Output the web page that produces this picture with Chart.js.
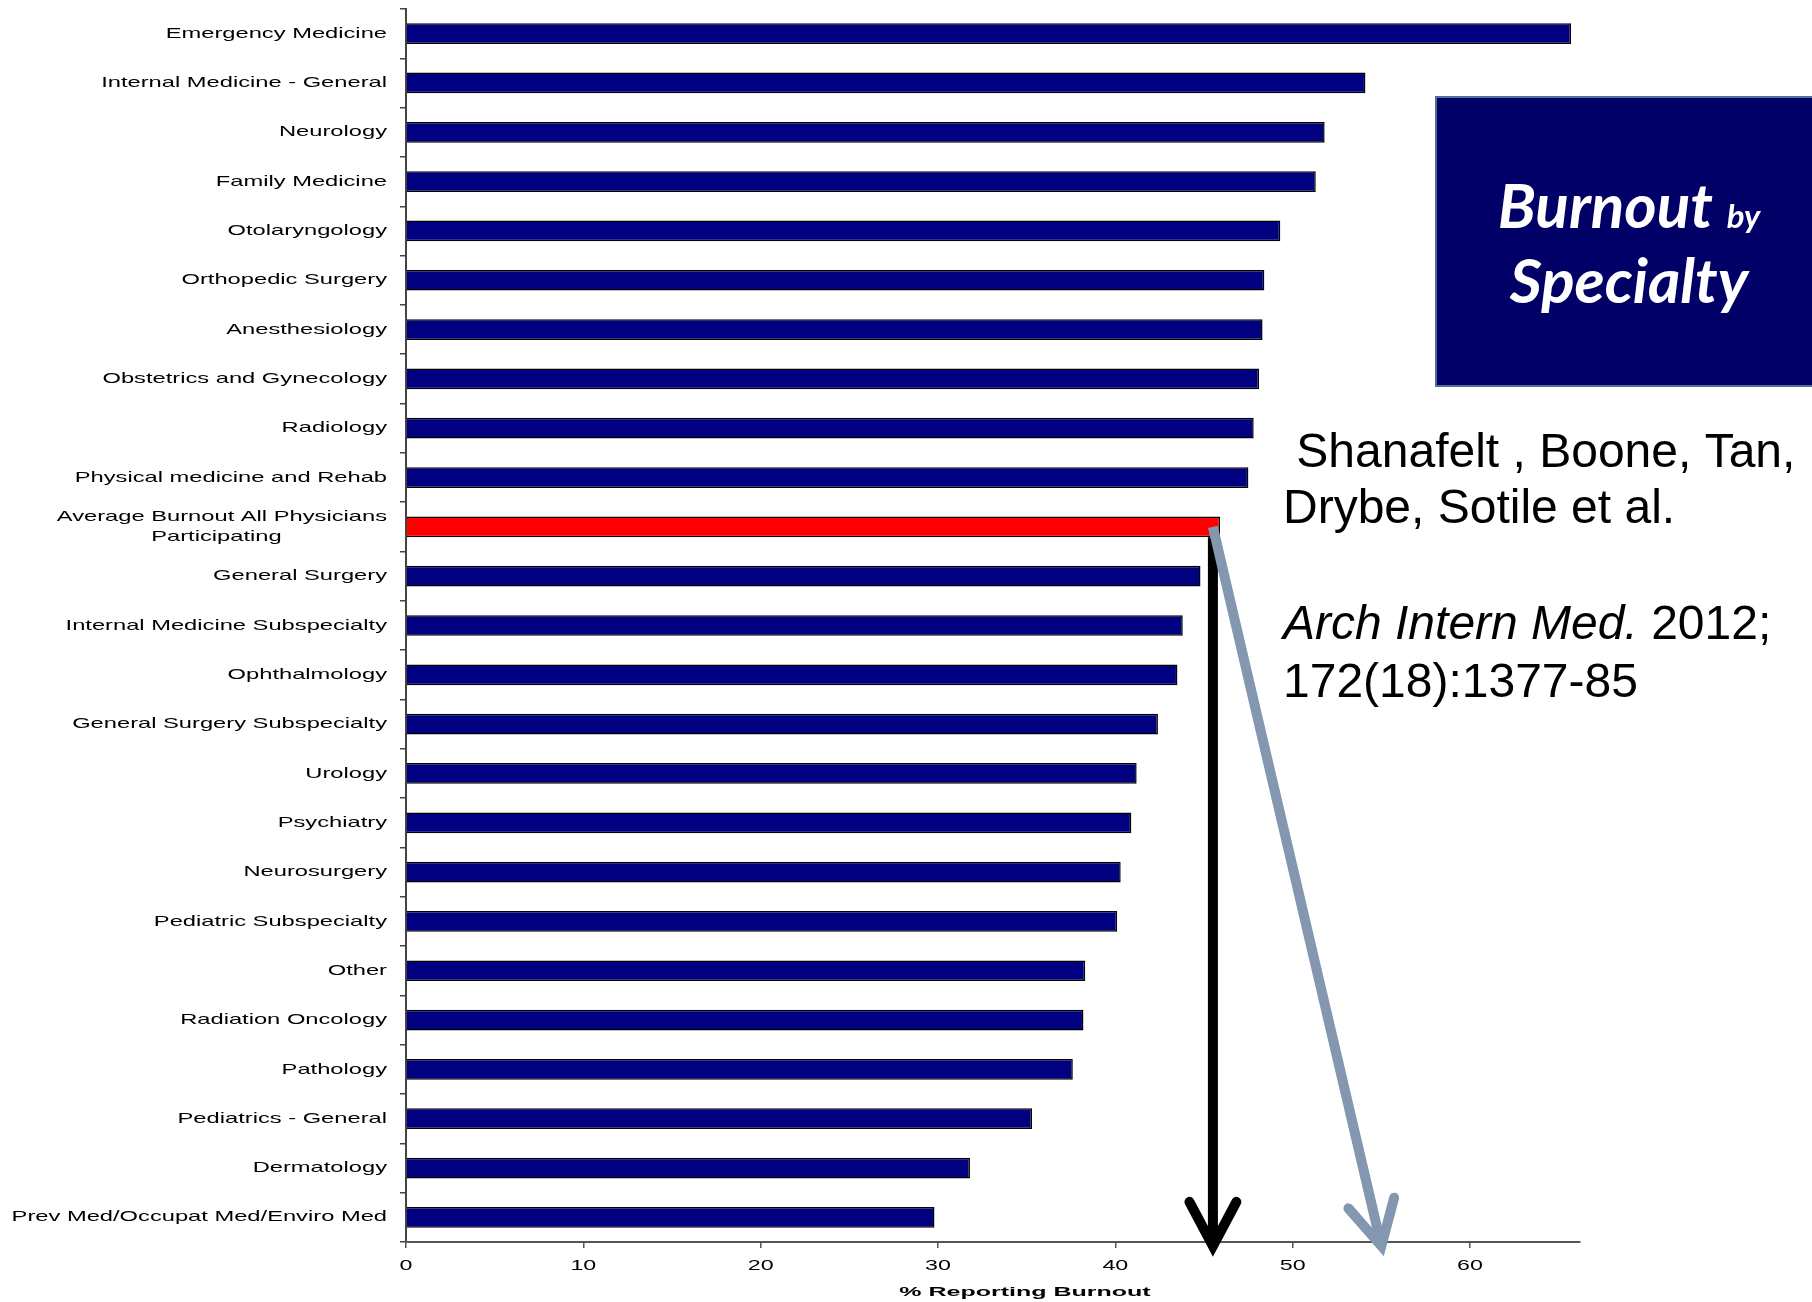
<!DOCTYPE html>
<html>
<head>
<meta charset="utf-8">
<title>Burnout by Specialty</title>
<script src="https://cdn.jsdelivr.net/npm/chart.js@4.4.1/dist/chart.umd.min.js"></script>
<style>
  html, body { margin: 0; padding: 0; background: #fff; }
  #wrap { width: 1812px; height: 1302px; position: relative; }
</style>
</head>
<body>
<div id="wrap"><canvas id="burnoutChart"></canvas></div>
<script>
// data (% reporting burnout)
var specialties = [
    'Emergency Medicine',
    'Internal Medicine - General',
    'Neurology',
    'Family Medicine',
    'Otolaryngology',
    'Orthopedic Surgery',
    'Anesthesiology',
    'Obstetrics and Gynecology',
    'Radiology',
    'Physical medicine and Rehab',
    ['Average Burnout All Physicians', 'Participating'],
    'General Surgery',
    'Internal Medicine Subspecialty',
    'Ophthalmology',
    'General Surgery Subspecialty',
    'Urology',
    'Psychiatry',
    'Neurosurgery',
    'Pediatric Subspecialty',
    'Other',
    'Radiation Oncology',
    'Pathology',
    'Pediatrics - General',
    'Dermatology',
    'Prev Med/Occupat Med/Enviro Med'
];
var burnoutPct = [
    65.7, 54.1, 51.8, 51.3, 49.3, 48.4, 48.3, 48.1, 47.8, 47.5,
    45.9, 44.8, 43.8, 43.5, 42.4, 41.2, 40.9, 40.3, 40.1, 38.3,
    38.2, 37.6, 35.3, 31.8, 29.8
];
var averageIndex = 10;
var xAxisMax = 66.2;
var xTickStep = 10;
var xAxisTitle = '% Reporting Burnout';

// where the two arrows point (in % units)
var arrowStartValue = 45.5;
var greyArrowEndValue = 55;

var titleWords = ['Burnout', 'by', 'Specialty'];
var citationLines = [
    [{ t: ' Shanafelt , Boone, Tan,', italic: false }],
    [{ t: 'Drybe, Sotile et al.', italic: false }],
    [{ t: 'Arch Intern Med.', italic: true }, { t: ' 2012;', italic: false }],
    [{ t: '172(18):1377-85', italic: false }]
];

var barColors = burnoutPct.map(function(v, i) {
    return i === averageIndex ? '#ff0000' : '#000080';
});

// the slide's axis text is stretched sideways
var labelStretch = { x: 1.55, y: 1.58 };
var titleStretch = 2.0;
var titleShift = 32;

function withStretch(ctx, sx, draw) {
    var fill = CanvasRenderingContext2D.prototype.fillText;
    ctx.fillText = function(text, x, y) {
        ctx.save();
        ctx.translate(x, y);
        ctx.scale(sx, 1);
        fill.call(ctx, text, 0, 0);
        ctx.restore();
    };
    try {
        draw();
    } finally {
        delete ctx.fillText;
    }
}

var stretchPlugin = {
    id: 'stretch',
    beforeDraw: function(chart) {
        Object.keys(chart.scales).forEach(function(id) {
            var scale = chart.scales[id];
            if (scale._stretched) return;
            scale._stretched = true;
            var drawLabels = scale.drawLabels;
            var drawTitle = scale.drawTitle;
            scale.drawLabels = function(area) {
                var self = this;
                withStretch(chart.ctx, labelStretch[id] || 1, function() {
                    drawLabels.call(self, area);
                });
            };
            scale.drawTitle = function() {
                var self = this;
                chart.ctx.save();
                chart.ctx.translate(titleShift, 0);
                withStretch(chart.ctx, titleStretch, function() {
                    drawTitle.call(self);
                });
                chart.ctx.restore();
            };
        });
    }
};

function drawArrow(ctx, x1, y1, x2, y2, color, width) {
    var ang = Math.atan2(y2 - y1, x2 - x1);
    var armLen = 50, spread = 28 * Math.PI / 180;
    ctx.strokeStyle = color;
    ctx.lineWidth = width;
    ctx.lineCap = 'butt';
    ctx.beginPath();
    ctx.moveTo(x1, y1);
    ctx.lineTo(x2 - Math.cos(ang) * 4, y2 - Math.sin(ang) * 4);
    ctx.stroke();
    ctx.lineCap = 'round';
    ctx.lineJoin = 'miter';
    ctx.beginPath();
    ctx.moveTo(x2 - armLen * Math.cos(ang - spread), y2 - armLen * Math.sin(ang - spread));
    ctx.lineTo(x2, y2);
    ctx.lineTo(x2 - armLen * Math.cos(ang + spread), y2 - armLen * Math.sin(ang + spread));
    ctx.stroke();
}

var annotationPlugin = {
    id: 'annotations',
    afterDraw: function(chart) {
        var ctx = chart.ctx;
        var xs = chart.scales.x;
        var bar = chart.getDatasetMeta(0).data[averageIndex];
        var axisY = chart.chartArea.bottom;
        ctx.save();

        // arrows from the average bar down to the axis
        var ax = xs.getPixelForValue(arrowStartValue);
        drawArrow(ctx, ax, bar.y + bar.height / 2, ax, axisY + 4, '#000000', 10);
        drawArrow(ctx, ax, bar.y, xs.getPixelForValue(greyArrowEndValue), axisY + 4, '#8497b0', 10);

        // title box
        ctx.fillStyle = '#000066';
        ctx.fillRect(1436, 97, 400, 289);
        ctx.strokeStyle = '#4f6e9b';
        ctx.lineWidth = 2;
        ctx.strokeRect(1436, 97, 400, 289);

        ctx.fillStyle = '#ffffff';
        ctx.textBaseline = 'alphabetic';
        ctx.textAlign = 'left';
        var big = 'italic bold 62px Lato, "Open Sans", sans-serif';
        var small = 'italic bold 33px Lato, "Open Sans", sans-serif';
        ctx.font = big;
        var w1 = ctx.measureText(titleWords[0] + ' ').width;
        ctx.font = small;
        var w2 = ctx.measureText(titleWords[1]).width;
        var cx = 1629;
        var startX = cx - (w1 + w2) / 2;
        ctx.font = big;
        ctx.fillText(titleWords[0], startX, 228);
        ctx.font = small;
        ctx.fillText(titleWords[1], startX + w1, 228);
        ctx.font = big;
        ctx.textAlign = 'center';
        ctx.fillText(titleWords[2], cx, 303);

        // citation
        ctx.fillStyle = '#000000';
        ctx.textAlign = 'left';
        var baselines = [467, 523, 639, 697];
        citationLines.forEach(function(line, i) {
            var x = 1283;
            line.forEach(function(part) {
                ctx.font = (part.italic ? 'italic ' : '') + '48px "Liberation Sans", Arial, sans-serif';
                ctx.fillText(part.t, x, baselines[i]);
                x += ctx.measureText(part.t).width;
            });
        });
        ctx.restore();
    }
};

var ctx = document.getElementById('burnoutChart').getContext('2d');
new Chart(ctx, {
    type: 'bar',
    data: {
        labels: specialties,
        datasets: [{
            label: 'Burnout',
            data: burnoutPct,
            backgroundColor: barColors,
            borderColor: '#000000',
            borderWidth: 1.5,
            barPercentage: 0.42,
            categoryPercentage: 1.0
        }]
    },
    options: {
        indexAxis: 'y',
        responsive: true,
        maintainAspectRatio: false,
        animation: false,
        layout: { padding: { top: 9, right: 232, bottom: 0, left: 0 } },
        plugins: {
            legend: { display: false },
            tooltip: { enabled: false }
        },
        scales: {
            y: {
                grid: { offset: true, drawOnChartArea: false, tickLength: 6, color: '#444', lineWidth: 1.5 },
                border: { color: '#444', width: 2 },
                ticks: {
                    color: '#000',
                    autoSkip: false,
                    padding: 13,
                    font: { family: '"Liberation Sans", Arial, sans-serif', size: 15, lineHeight: 1.3 },
                    callback: function(value) {
                        var raw = specialties[value];
                        if (Array.isArray(raw)) {
                            // second line sits centred under the first
                            return [raw[0], raw[1] + '                '];
                        }
                        return this.getLabelForValue(value);
                    }
                },
                afterFit: function(scale) {
                    scale.width = 406;
                    scale.paddingTop = 0;
                    scale.paddingBottom = 0;
                }
            },
            x: {
                min: 0,
                max: xAxisMax,
                grid: { drawOnChartArea: false, tickLength: 6, color: '#555', lineWidth: 1.5 },
                border: { color: '#555', width: 2 },
                ticks: {
                    stepSize: xTickStep,
                    includeBounds: false,
                    color: '#000',
                    padding: 9,
                    font: { family: '"Liberation Sans", Arial, sans-serif', size: 15 }
                },
                title: {
                    display: true,
                    text: xAxisTitle,
                    color: '#000',
                    font: { family: '"Liberation Sans", Arial, sans-serif', size: 12.5, weight: 'bold' },
                    padding: { top: 0, bottom: 2 }
                },
                afterFit: function(scale) { scale.height = 60; }
            }
        }
    },
    plugins: [stretchPlugin, annotationPlugin]
});
</script>
</body>
</html>
